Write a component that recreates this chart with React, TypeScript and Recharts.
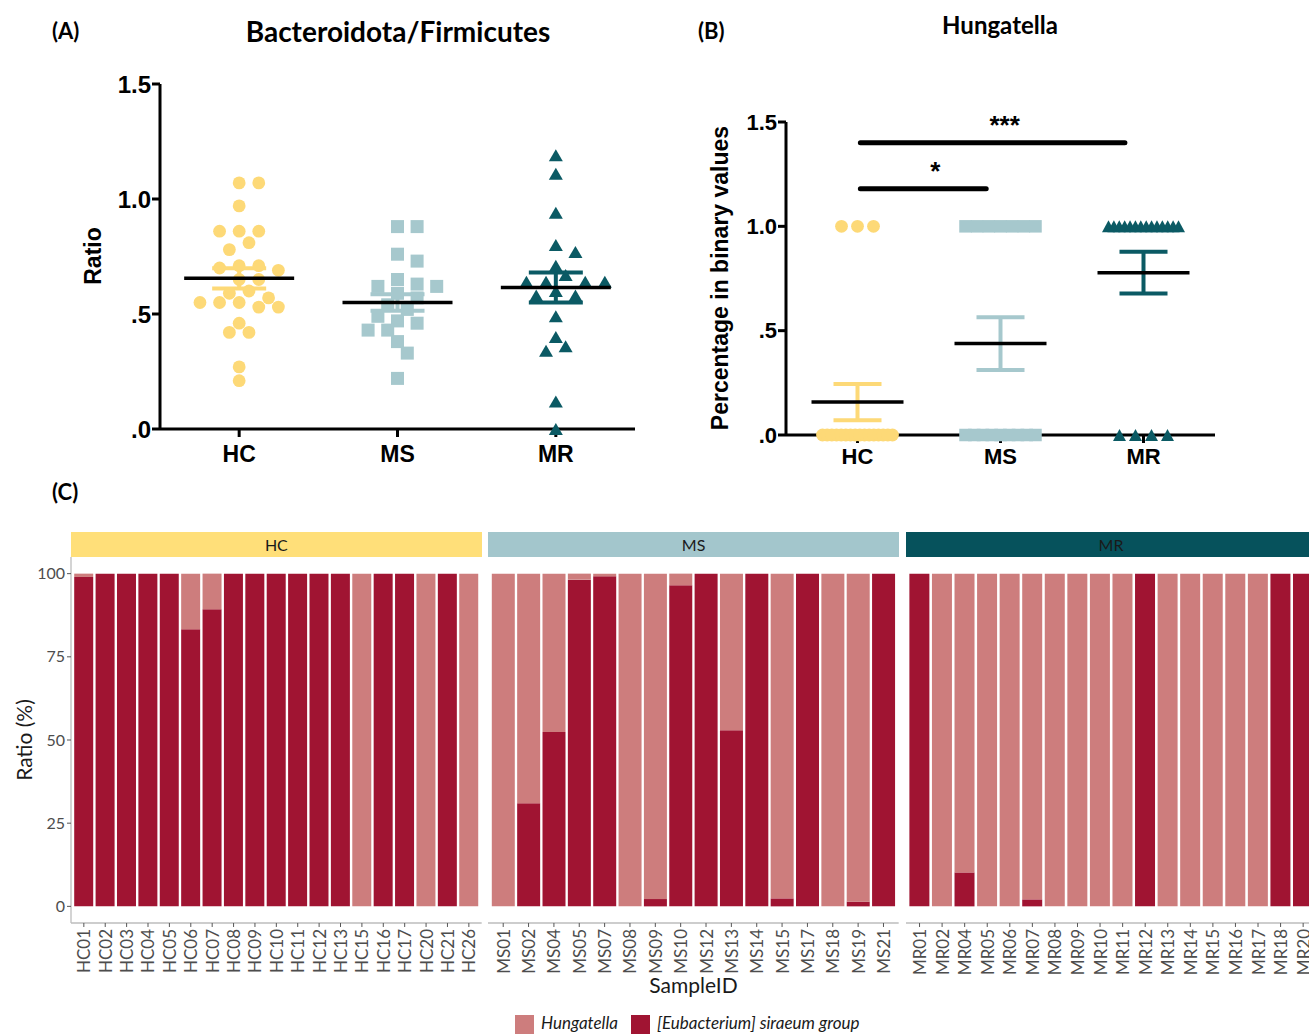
import React from 'react';
import { ScatterChart, Scatter, XAxis, YAxis, ErrorBar, ReferenceLine, BarChart, Bar } from 'recharts';

const groups = ['HC', 'MS', 'MR'];

// (A) Bacteroidota/Firmicutes ratio per subject
const hcRatio = [1.07, 1.07, 0.97, 0.86, 0.86, 0.86, 0.81, 0.78, 0.71, 0.71, 0.7, 0.69, 0.65, 0.65, 0.6, 0.59, 0.57, 0.55, 0.55, 0.55, 0.53, 0.53, 0.46, 0.42, 0.42, 0.27, 0.21];
const msRatio = [0.88, 0.88, 0.76, 0.73, 0.65, 0.63, 0.62, 0.62, 0.59, 0.57, 0.54, 0.52, 0.49, 0.47, 0.46, 0.43, 0.43, 0.38, 0.33, 0.22];
const mrRatio = [1.19, 1.11, 0.94, 0.8, 0.77, 0.71, 0.67, 0.64, 0.64, 0.64, 0.64, 0.6, 0.58, 0.58, 0.49, 0.4, 0.36, 0.34, 0.12, 0.0];
const ratioMean = [0.655, 0.55, 0.615];
const ratioSem = [0.044, 0.036, 0.065];

// (B) Hungatella dominant (1) or not (0), per subject
const hcBinary = [0, 0, 0, 0, 0, 0, 0, 0, 0, 0, 0, 0, 0, 1, 0, 0, 1, 0, 1];
const msBinary = [1, 1, 0, 0, 0, 1, 1, 0, 0, 0, 0, 1, 0, 1, 1, 0];
const mrBinary = [0, 1, 1, 1, 1, 1, 1, 1, 1, 1, 0, 1, 1, 1, 1, 1, 0, 0];
const binaryMean = [0.158, 0.438, 0.778];
const binarySem = [0.087, 0.126, 0.1];

// (C) relative abundance (%)
const hcIds = ['HC01', 'HC02', 'HC03', 'HC04', 'HC05', 'HC06', 'HC07', 'HC08', 'HC09', 'HC10', 'HC11', 'HC12', 'HC13', 'HC15', 'HC16', 'HC17', 'HC20', 'HC21', 'HC26'];
const hcEubacterium = [99, 100, 100, 100, 100, 83.3, 89.3, 100, 100, 100, 100, 100, 100, 0, 100, 100, 0, 100, 0];
const hcHungatella = [1, 0, 0, 0, 0, 16.7, 10.7, 0, 0, 0, 0, 0, 0, 100, 0, 0, 100, 0, 100];
const msIds = ['MS01', 'MS02', 'MS04', 'MS05', 'MS07', 'MS08', 'MS09', 'MS10', 'MS12', 'MS13', 'MS14', 'MS15', 'MS17', 'MS18', 'MS19', 'MS21'];
const msEubacterium = [0, 31, 52.4, 98.2, 99.2, 0, 2.2, 96.5, 100, 52.9, 100, 2.4, 100, 0, 1.4, 100];
const msHungatella = [100, 69, 47.6, 1.8, 0.8, 100, 97.8, 3.5, 0, 47.1, 0, 97.6, 0, 100, 98.6, 0];
const mrIds = ['MR01', 'MR02', 'MR04', 'MR05', 'MR06', 'MR07', 'MR08', 'MR09', 'MR10', 'MR11', 'MR12', 'MR13', 'MR14', 'MR15', 'MR16', 'MR17', 'MR18', 'MR20'];
const mrEubacterium = [100, 0, 10.2, 0, 0, 2.1, 0, 0, 0, 0, 100, 0, 0, 0, 0, 0, 100, 100];
const mrHungatella = [0, 100, 89.8, 100, 100, 97.9, 100, 100, 100, 100, 0, 100, 100, 100, 100, 100, 0, 0];

const HC_COL = '#FDD977';
const MS_COL = '#A6C8CD';
const MR_COL = '#0B5A64';
const DARK = '#A01432';
const LIGHT = '#CD7D7D';
const ARIAL = '"Liberation Sans", Arial, sans-serif';
const LATO = 'Lato, "Open Sans", sans-serif';

const prismTick = (v: number) => (v === 0 ? '.0' : v === 0.5 ? '.5' : v.toFixed(1));

// greedy beeswarm, like Prism's scatter dot plot
function swarm(values: number[], group: number, pxPerUnit: number, bandPx: number) {
  const step = 9.8;
  const minDist = 12.5;
  const placed: { x: number; y: number }[] = [];
  const out: { x: number; y: number }[] = [];
  [...values].sort((a, b) => b - a).forEach((v) => {
    const yPx = v * pxPerUnit;
    for (let j = 0; j < 60; j++) {
      const lane = j === 0 ? 0 : j % 2 === 1 ? (j + 1) / 2 : -j / 2;
      const xPx = lane * step;
      if (placed.every((p) => Math.hypot(p.x - xPx, p.y - yPx) >= minDist)) {
        placed.push({ x: xPx, y: yPx });
        out.push({ x: group + xPx / bandPx, y: v });
        break;
      }
    }
  });
  return out;
}

// points sharing a value are laid in one centred row
function rows(values: number[], group: number, bandPx: number) {
  const out: { x: number; y: number }[] = [];
  Array.from(new Set(values)).forEach((v) => {
    const n = values.filter((u) => u === v).length;
    const s = n > 1 ? Math.min(16, 70 / (n - 1)) : 0;
    for (let k = 0; k < n; k++) out.push({ x: group + ((k - (n - 1) / 2) * s) / bandPx, y: v });
  });
  return out;
}

const circle = (r: number, fill: string) => (p: any) => <circle cx={p.cx} cy={p.cy} r={r} fill={fill} />;
const square = (s: number, fill: string) => (p: any) => <rect x={p.cx - s / 2} y={p.cy - s / 2} width={s} height={s} fill={fill} />;
const triangle = (w: number, h: number, fill: string) => (p: any) => (
  <polygon points={`${p.cx},${p.cy - h / 2} ${p.cx - w / 2},${p.cy + h / 2} ${p.cx + w / 2},${p.cy + h / 2}`} fill={fill} />
);
const meanLine = (half: number) => (p: any) => (
  <line x1={p.cx - half} x2={p.cx + half} y1={p.cy} y2={p.cy} stroke="#000" strokeWidth={3.5} />
);

const axisStyle = { stroke: '#000', strokeWidth: 3 };
const boldTick = (size: number) => ({ fill: '#000', fontSize: size, fontWeight: 700, fontFamily: ARIAL });
const colors = [HC_COL, MS_COL, MR_COL];

function PanelA() {
  const pxPerUnit = 345 / 1.5;
  const band = 475 / 3;
  const pts = [hcRatio, msRatio, mrRatio].map((vals, i) => swarm(vals, i + 1, pxPerUnit, band));
  const shapes = [circle(6.4, HC_COL), square(13, MS_COL), triangle(14, 12, MR_COL)];
  return (
    <ScatterChart width={660} height={480} margin={{ top: 84, right: 25, bottom: 0, left: 0 }}>
      <XAxis type="number" dataKey="x" domain={[0.5, 3.5]} ticks={[1, 2, 3]} interval={0}
        tickFormatter={(v: number) => groups[v - 1]} height={51}
        axisLine={axisStyle} tickLine={axisStyle} tickSize={8} tickMargin={9} tick={boldTick(23)} />
      <YAxis type="number" dataKey="y" domain={[0, 1.5]} ticks={[0, 0.5, 1, 1.5]} interval={0}
        tickFormatter={prismTick} width={160}
        axisLine={axisStyle} tickLine={axisStyle} tickSize={8} tickMargin={1} tick={boldTick(24)}
        label={() => (
          <text x={93} y={256} transform="rotate(-90 93 256)" textAnchor="middle" dominantBaseline="central"
            fontSize={23} fontWeight={700} fontFamily={ARIAL} fill="#000">Ratio</text>
        )} />
      {pts.map((d, i) => (
        <Scatter key={groups[i]} data={d} shape={shapes[i]} isAnimationActive={false} />
      ))}
      {groups.map((g, i) => (
        <Scatter key={'m' + g} data={[{ x: i + 1, y: ratioMean[i], err: ratioSem[i] }]} shape={meanLine(55)} isAnimationActive={false}>
          <ErrorBar dataKey="err" direction="y" width={27} stroke={colors[i]} strokeWidth={4} isAnimationActive={false} />
        </Scatter>
      ))}
    </ScatterChart>
  );
}

function PanelB() {
  const band = 429 / 3;
  const pts = [hcBinary, msBinary, mrBinary].map((vals, i) => rows(vals, i + 1, band));
  const shapes = [circle(6.4, HC_COL), square(12.5, MS_COL), triangle(13, 12, MR_COL)];
  const starLabel = (value: string) => ({ value, position: 'top' as const, offset: 9, dx: 12, fontSize: 26, fontWeight: 700, fill: '#000', fontFamily: ARIAL });
  return (
    <ScatterChart width={600} height={480} margin={{ top: 122, right: 25, bottom: 0, left: 0 }}>
      <XAxis type="number" dataKey="x" domain={[0.5, 3.5]} ticks={[1, 2, 3]} interval={0}
        tickFormatter={(v: number) => groups[v - 1]} height={45}
        axisLine={axisStyle} tickLine={axisStyle} tickSize={8} tickMargin={5} tick={boldTick(22)} />
      <YAxis type="number" dataKey="y" domain={[0, 1.5]} ticks={[0, 0.5, 1, 1.5]} interval={0}
        tickFormatter={prismTick} width={146}
        axisLine={axisStyle} tickLine={axisStyle} tickSize={8} tickMargin={1} tick={boldTick(22)}
        label={() => (
          <text x={80} y={278} transform="rotate(-90 80 278)" textAnchor="middle" dominantBaseline="central"
            fontSize={23} fontWeight={700} fontFamily={ARIAL} fill="#000">Percentage in binary values</text>
        )} />
      <ReferenceLine segment={[{ x: 1.02, y: 1.18 }, { x: 1.9, y: 1.18 }]} stroke="#000" strokeWidth={5} strokeLinecap="round" label={starLabel('*')} />
      <ReferenceLine segment={[{ x: 1.02, y: 1.4 }, { x: 2.87, y: 1.4 }]} stroke="#000" strokeWidth={5} strokeLinecap="round" label={starLabel('***')} />
      {pts.map((d, i) => (
        <Scatter key={groups[i]} data={d} shape={shapes[i]} isAnimationActive={false} />
      ))}
      {groups.map((g, i) => (
        <Scatter key={'m' + g} data={[{ x: i + 1, y: binaryMean[i], err: binarySem[i] }]} shape={meanLine(46)} isAnimationActive={false}>
          <ErrorBar dataKey="err" direction="y" width={24} stroke={colors[i]} strokeWidth={4} isAnimationActive={false} />
        </Scatter>
      ))}
    </ScatterChart>
  );
}

const SampleTick = (p: any) => (
  <text x={p.x} y={p.y} transform={`rotate(-90 ${p.x} ${p.y})`} textAnchor="end" dominantBaseline="central"
    fontSize={17} fontFamily={LATO} fill="#4D4D4D">{p.payload.value}</text>
);

function Facet({ ids, eub, hung, left, width, showY }: any) {
  const data = ids.map((id: string, i: number) => ({ id, eub: eub[i], hung: hung[i] }));
  const yW = showY ? 71 : 0;
  const pad = ((width - yW) * 0.1) / (ids.length + 0.2);
  return (
    <div style={{ position: 'absolute', left, top: 557 }}>
      <BarChart width={width} height={436} data={data} margin={{ top: 0, right: 0, bottom: 0, left: 0 }} barCategoryGap="5%">
        <XAxis dataKey="id" interval={0} padding={{ left: pad, right: pad }} height={70}
          axisLine={{ stroke: '#BDBDBD', strokeWidth: 1.3 }} tickLine={{ stroke: '#555' }} tickSize={4} tickMargin={2}
          tick={(p: any) => <SampleTick {...p} />} />
        <YAxis hide={!showY} width={yW} type="number" domain={[-5, 105]} ticks={[0, 25, 50, 75, 100]} interval={0}
          axisLine={{ stroke: '#BDBDBD', strokeWidth: 1.3 }} tickLine={{ stroke: '#555' }} tickSize={4} tickMargin={2}
          tick={{ fill: '#4D4D4D', fontSize: 16, fontFamily: LATO }}
          label={() => (
            <text x={24} y={183} transform="rotate(-90 24 183)" textAnchor="middle" dominantBaseline="central"
              fontSize={21} fontFamily={LATO} fill="#1A1A1A">Ratio (%)</text>
          )} />
        <Bar dataKey="eub" stackId="s" fill={DARK} isAnimationActive={false} />
        <Bar dataKey="hung" stackId="s" fill={LIGHT} isAnimationActive={false} />
      </BarChart>
    </div>
  );
}

const Strip = ({ label, left, width, color }: any) => (
  <div style={{ position: 'absolute', left, top: 532, width, height: 25, background: color, color: '#1A1A1A',
    fontFamily: LATO, fontSize: 16, lineHeight: '25px', textAlign: 'center' }}>{label}</div>
);

const txt = (s: string, style: React.CSSProperties) => (
  <div style={{ position: 'absolute', whiteSpace: 'nowrap', ...style }}>{s}</div>
);

export default function App() {
  return (
    <div style={{ position: 'absolute', left: 0, top: 0, width: 1309, height: 1035, overflow: 'hidden', background: '#fff' }}>
      {txt('(A)', { left: 52, top: 18, fontFamily: LATO, fontWeight: 700, fontSize: 22, lineHeight: '26px' })}
      {txt('Bacteroidota/Firmicutes', { left: 198, width: 400, top: 15, textAlign: 'center', fontFamily: LATO, fontWeight: 700, fontSize: 28, lineHeight: '32px' })}
      {txt('(B)', { left: 698, top: 18, fontFamily: LATO, fontWeight: 700, fontSize: 22, lineHeight: '26px' })}
      {txt('Hungatella', { left: 900, width: 200, top: 10, textAlign: 'center', fontFamily: LATO, fontWeight: 700, fontSize: 24, lineHeight: '30px' })}
      {txt('(C)', { left: 52, top: 479, fontFamily: LATO, fontWeight: 700, fontSize: 22, lineHeight: '26px' })}

      <div style={{ position: 'absolute', left: 0, top: 0 }}><PanelA /></div>
      <div style={{ position: 'absolute', left: 640, top: 0 }}><PanelB /></div>

      <Strip label="HC" left={71} width={410.7} color="#FFDF79" />
      <Strip label="MS" left={488.3} width={410.7} color="#A3C6CC" />
      <Strip label="MR" left={905.7} width={410.7} color="#06525C" />
      <Facet ids={hcIds} eub={hcEubacterium} hung={hcHungatella} left={0} width={481.7} showY />
      <Facet ids={msIds} eub={msEubacterium} hung={msHungatella} left={488.3} width={410.7} />
      <Facet ids={mrIds} eub={mrEubacterium} hung={mrHungatella} left={905.7} width={410.7} />

      {txt('SampleID', { left: 593.5, width: 200, top: 972, textAlign: 'center', fontFamily: LATO, fontSize: 21, lineHeight: '26px', color: '#1A1A1A' })}
      <div style={{ position: 'absolute', left: 515, top: 1015, width: 19, height: 19, background: LIGHT }} />
      {txt('Hungatella', { left: 541, top: 1012, fontFamily: LATO, fontStyle: 'italic', fontSize: 17, lineHeight: '22px', color: '#1A1A1A' })}
      <div style={{ position: 'absolute', left: 631, top: 1015, width: 19, height: 19, background: DARK }} />
      {txt('[Eubacterium] siraeum group', { left: 657, top: 1012, fontFamily: LATO, fontStyle: 'italic', fontSize: 17, lineHeight: '22px', color: '#1A1A1A' })}
    </div>
  );
}
